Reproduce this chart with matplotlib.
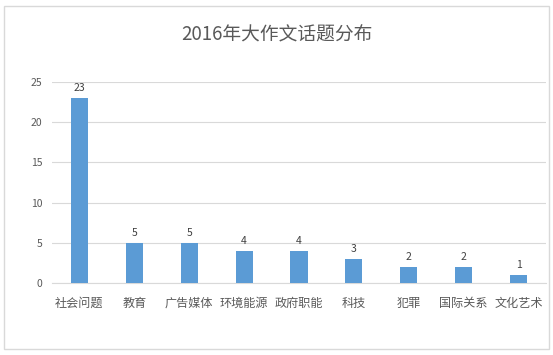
import matplotlib
matplotlib.use('Agg')
import matplotlib.pyplot as plt
from matplotlib.patches import Rectangle

plt.rcParams['font.family'] = ['Noto Sans CJK SC', 'DejaVu Sans']

# 数据
categories = ['社会问题', '教育', '广告媒体', '环境能源', '政府职能', '科技', '犯罪', '国际关系', '文化艺术']
counts = [23, 5, 5, 4, 4, 3, 2, 2, 1]
yticks = [0, 5, 10, 15, 20, 25]

text_color = '#595959'
bar_color = '#5b9bd5'
grid_color = '#d9d9d9'

fig = plt.figure(figsize=(5.53, 3.55), dpi=100)

# 外框
fig.patches.append(Rectangle((4 / 553, 1 - 349 / 355), 545 / 553, 343 / 355,
                             transform=fig.transFigure, fill=False,
                             edgecolor=grid_color, linewidth=1))

ax = fig.add_axes([52 / 553, 1 - 283 / 355, 494 / 553, 201 / 355])

x = range(len(categories))
bars = ax.bar(x, counts, width=0.31, color=bar_color, zorder=3)

# 数据标签
for xi, v in zip(x, counts):
    ax.text(xi, v + 0.6, str(v), ha='center', va='bottom', fontsize=7.5, color='#404040')

ax.set_xlim(-0.5, len(categories) - 0.5)
ax.set_ylim(0, 25)
ax.set_yticks(yticks)
ax.set_xticks(list(x))
ax.set_xticklabels(categories, fontsize=8.7, color=text_color)
ax.tick_params(axis='y', labelsize=7.5, colors=text_color, length=0, pad=7)
ax.tick_params(axis='x', length=0, pad=10)
ax.grid(axis='y', color=grid_color, linewidth=0.8, zorder=0)

for side in ['top', 'right', 'left']:
    ax.spines[side].set_visible(False)
ax.spines['bottom'].set_color(grid_color)
ax.spines['bottom'].set_linewidth(0.8)

fig.text(0.5, 1 - 35 / 355, '2016年大作文话题分布', ha='center', va='center',
         fontsize=13.5, color=text_color)

fig.savefig('out.png', dpi=100)
